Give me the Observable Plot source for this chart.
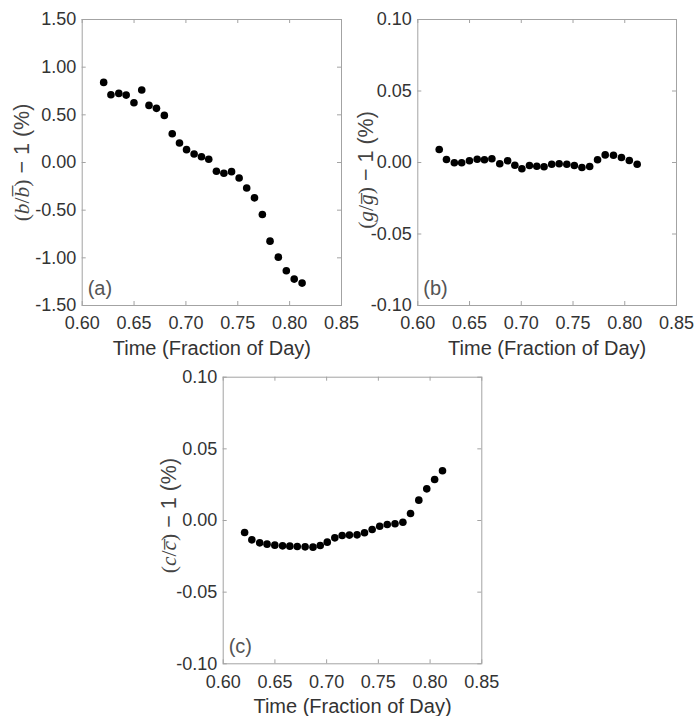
<!DOCTYPE html>
<html><head><meta charset="utf-8">
<script src="https://cdn.jsdelivr.net/npm/d3@7"></script>
<script src="https://cdn.jsdelivr.net/npm/@observablehq/plot@0.6"></script>
<style>
body{margin:0;background:#fff}
#fig{position:relative;width:697px;height:716px;background:#fff}
#fig svg{position:absolute;left:0;top:0;overflow:visible}
</style></head><body><div id="fig"></div>
<script>
// Time (fraction of day)
const time = [0.6207,0.6277,0.6353,0.6424,0.6499,0.6574,0.6644,0.6716,0.6792,0.6868,0.6938,0.7006,0.7079,0.7150,0.7220,0.7294,0.7366,0.7440,0.7513,0.7586,0.7661,0.7737,0.7811,0.7891,0.7968,0.8044,0.8120];
// (b/b̄) − 1 (%)
const bValues = [0.84,0.71,0.725,0.707,0.627,0.76,0.599,0.568,0.494,0.302,0.205,0.135,0.089,0.061,0.034,-0.092,-0.113,-0.096,-0.162,-0.267,-0.371,-0.546,-0.825,-0.993,-1.136,-1.223,-1.265];
// (g/ḡ) − 1 (%)
const gValues = [0.0091,0.0021,-0.0002,-0.0002,0.0012,0.0023,0.0019,0.0026,-0.0009,0.0012,-0.0019,-0.0044,-0.0021,-0.0026,-0.0030,-0.0012,-0.0009,-0.0012,-0.0021,-0.0035,-0.0028,0.0019,0.0053,0.0051,0.0035,0.0014,-0.0012];
// (c/c̄) − 1 (%)
const cValues = [-0.0084,-0.0135,-0.0156,-0.0165,-0.0172,-0.0177,-0.0179,-0.0181,-0.0184,-0.0186,-0.0174,-0.0151,-0.0121,-0.0105,-0.0102,-0.0100,-0.0086,-0.0063,-0.0040,-0.0028,-0.0023,-0.0012,0.0049,0.0142,0.0221,0.0286,0.0347];

const xTicks = [0.60,0.65,0.70,0.75,0.80,0.85];
const yTicksB = [-1.5,-1.0,-0.5,0,0.5,1.0,1.5];
const yTicksSmall = [-0.10,-0.05,0,0.05,0.10];
const xLabel = "Time (Fraction of Day)";
const panelLabels = ["(a)","(b)","(c)"];
const symbols = ["b","g","c"];

const W = 697, H = 716;
const frameColor = "#a3a3a3";
const textColor = "#333";
const fmt = d => d.toFixed(2);

const panels = [
  {values: bValues, domain: [-1.5,1.5], ticks: yTicksB, label: panelLabels[0], sym: symbols[0],
   L: 81.7, T: 19, R: 341, B: 305, ylx: 29, yly: 162.5},
  {values: gValues, domain: [-0.1,0.1], ticks: yTicksSmall, label: panelLabels[1], sym: symbols[1],
   L: 417.3, T: 19, R: 676, B: 305, ylx: 373, yly: 170},
  {values: cValues, domain: [-0.1,0.1], ticks: yTicksSmall, label: panelLabels[2], sym: symbols[2],
   L: 222.7, T: 376.7, R: 481.3, B: 663.3, ylx: 176, yly: 515.5}
];

const fig = document.getElementById("fig");
for (const p of panels) {
  const data = time.map((t, i) => ({t, v: p.values[i]}));
  const fw = p.R - p.L, fh = p.B - p.T;
  const tl = 4;
  const chart = Plot.plot({
    width: W, height: H,
    marginLeft: p.L, marginRight: W - p.R, marginTop: p.T, marginBottom: H - p.B,
    style: {background: "transparent", fontFamily: "'Liberation Sans', Arial, sans-serif", color: textColor, overflow: "visible"},
    x: {domain: [0.6, 0.85]},
    y: {domain: p.domain},
    marks: [
      Plot.frame({stroke: frameColor}),
      Plot.tickX(xTicks, {x: d => d, insetTop: fh - tl, stroke: frameColor}),
      Plot.tickX(xTicks, {x: d => d, insetBottom: fh - tl, stroke: frameColor}),
      Plot.tickY(p.ticks, {y: d => d, insetLeft: fw - tl, stroke: frameColor}),
      Plot.tickY(p.ticks, {y: d => d, insetRight: fw - tl, stroke: frameColor}),
      Plot.axisX(xTicks, {tickSize: 0, tickPadding: 11, tickFormat: fmt, fontSize: 18, label: null}),
      Plot.axisY(p.ticks, {tickSize: 0, tickPadding: 6, tickFormat: fmt, fontSize: 18, label: null}),
      Plot.dot(data, {x: "t", y: "v", r: 3.8, fill: "black", stroke: "none"}),
      Plot.text([xLabel], {text: d => d, frameAnchor: "bottom", dy: 49, lineAnchor: "bottom", fontSize: 20, fill: textColor}),
      Plot.text([p.label], {text: d => d, frameAnchor: "bottom-left", textAnchor: "start", dx: 5.5, dy: -11, lineAnchor: "bottom", fontSize: 20, fill: "#555"})
    ]
  });
  const svg = d3.select(chart);
  const t = svg.append("text")
    .attr("transform", `translate(${p.ylx},${p.yly}) rotate(-90)`)
    .attr("text-anchor", "middle")
    .attr("font-size", 21.5)
    .attr("fill", "#444");
  const serif = "'Liberation Serif', 'DejaVu Serif', serif";
  t.append("tspan").attr("font-family", serif).text("(");
  t.append("tspan").attr("font-family", serif).attr("font-style", "italic").text(p.sym);
  t.append("tspan").attr("font-family", serif).text("/");
  t.append("tspan").attr("font-family", serif).attr("font-style", "italic").text(p.sym + "\u0305");
  t.append("tspan").attr("font-family", serif).text(")");
  t.append("tspan").text(" \u2212 1 (%)");
  fig.appendChild(chart);
}
</script></body></html>
